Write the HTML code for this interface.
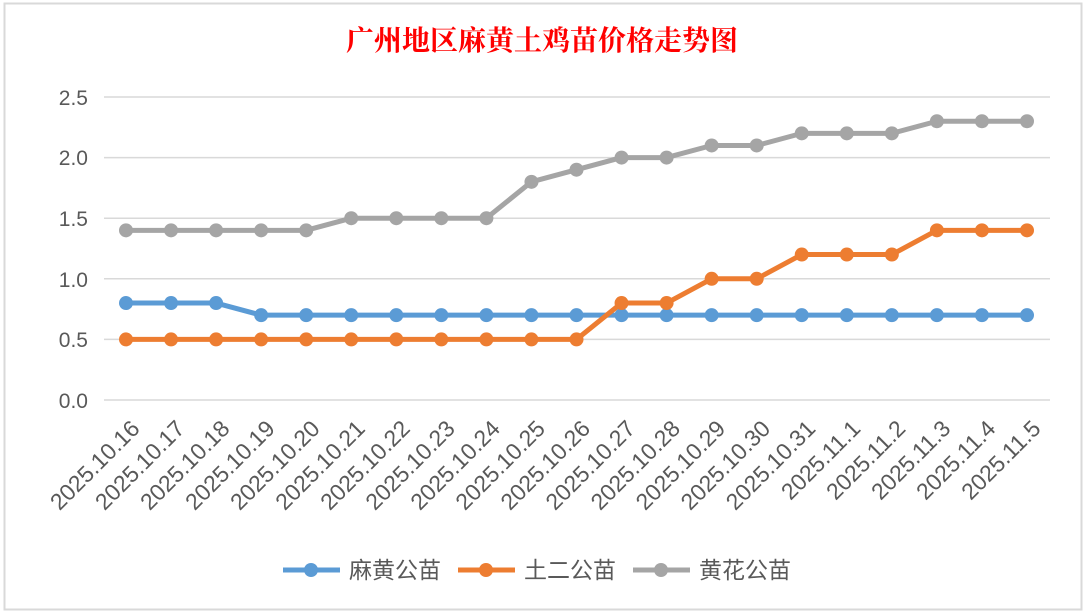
<!DOCTYPE html>
<html><head><meta charset="utf-8"><style>
html,body{margin:0;padding:0;background:#fff;}
svg{display:block;}
</style></head><body>
<svg width="1085" height="613" xmlns="http://www.w3.org/2000/svg" font-family="'Liberation Sans','Noto Sans CJK SC',sans-serif">
<rect x="0" y="0" width="1085" height="613" fill="#fff"/>
<rect x="4.5" y="3.5" width="1077" height="606" fill="#fff" stroke="#d9d9d9" stroke-width="2"/>
<text x="542" y="50" text-anchor="middle" font-family="'Noto Serif CJK SC',serif" font-weight="bold" font-size="28" fill="#ff0000">广州地区麻黄土鸡苗价格走势图</text>
<g stroke="#d9d9d9" stroke-width="1.5">
<line x1="104" x2="1050" y1="97" y2="97"/>
<line x1="104" x2="1050" y1="157.6" y2="157.6"/>
<line x1="104" x2="1050" y1="218.2" y2="218.2"/>
<line x1="104" x2="1050" y1="278.8" y2="278.8"/>
<line x1="104" x2="1050" y1="339.4" y2="339.4"/>
<line x1="104" x2="1050" y1="400" y2="400"/>
</g>
<g font-size="21" fill="#595959" text-anchor="end">
<text x="88" y="105">2.5</text>
<text x="88" y="165">2.0</text>
<text x="88" y="226">1.5</text>
<text x="88" y="287">1.0</text>
<text x="88" y="347">0.5</text>
<text x="88" y="408">0.0</text>
</g>
<g id="labels" font-size="23" fill="#595959" text-anchor="end"></g>
<g id="series"></g>
<g font-size="23" fill="#595959">
<line x1="283" x2="340" y1="570" y2="570" stroke="#5b9bd5" stroke-width="5"/><circle cx="311" cy="570" r="7" fill="#5b9bd5"/>
<text x="349" y="578">麻黄公苗</text>
<line x1="458" x2="515" y1="570" y2="570" stroke="#ed7d31" stroke-width="5"/><circle cx="486" cy="570" r="7" fill="#ed7d31"/>
<text x="524" y="578">土二公苗</text>
<line x1="633" x2="690" y1="570" y2="570" stroke="#a5a5a5" stroke-width="5"/><circle cx="661" cy="570" r="7" fill="#a5a5a5"/>
<text x="699" y="578">黄花公苗</text>
</g>
</svg>
<script>
var dates=["2025.10.16","2025.10.17","2025.10.18","2025.10.19","2025.10.20","2025.10.21","2025.10.22","2025.10.23","2025.10.24","2025.10.25","2025.10.26","2025.10.27","2025.10.28","2025.10.29","2025.10.30","2025.10.31","2025.11.1","2025.11.2","2025.11.3","2025.11.4","2025.11.5"];
var s=[
{c:"#a5a5a5",d:[1.4,1.4,1.4,1.4,1.4,1.5,1.5,1.5,1.5,1.8,1.9,2.0,2.0,2.1,2.1,2.2,2.2,2.2,2.3,2.3,2.3]},
{c:"#5b9bd5",d:[0.8,0.8,0.8,0.7,0.7,0.7,0.7,0.7,0.7,0.7,0.7,0.7,0.7,0.7,0.7,0.7,0.7,0.7,0.7,0.7,0.7]},
{c:"#ed7d31",d:[0.5,0.5,0.5,0.5,0.5,0.5,0.5,0.5,0.5,0.5,0.5,0.8,0.8,1.0,1.0,1.2,1.2,1.2,1.4,1.4,1.4]}
];
var NS="http://www.w3.org/2000/svg";
function X(i){return 126+45.05*i;}function Y(v){return 400-v*121.2;}
var g=document.getElementById("series");
s.forEach(function(o){
 var p=document.createElementNS(NS,"polyline");
 p.setAttribute("points",o.d.map(function(v,i){return X(i)+","+Y(v)}).join(" "));
 p.setAttribute("fill","none");p.setAttribute("stroke",o.c);p.setAttribute("stroke-width","5");p.setAttribute("stroke-linejoin","round");
 g.appendChild(p);
 o.d.forEach(function(v,i){var c=document.createElementNS(NS,"circle");c.setAttribute("cx",X(i));c.setAttribute("cy",Y(v));c.setAttribute("r","7");c.setAttribute("fill",o.c);g.appendChild(c);});
});
var l=document.getElementById("labels");
dates.forEach(function(d,i){var t=document.createElementNS(NS,"text");var x=X(i)+15,y=430;t.setAttribute("x",x);t.setAttribute("y",y);t.setAttribute("transform","rotate(-45 "+x+" "+y+")");t.textContent=d;l.appendChild(t);});
</script>
</body></html>
